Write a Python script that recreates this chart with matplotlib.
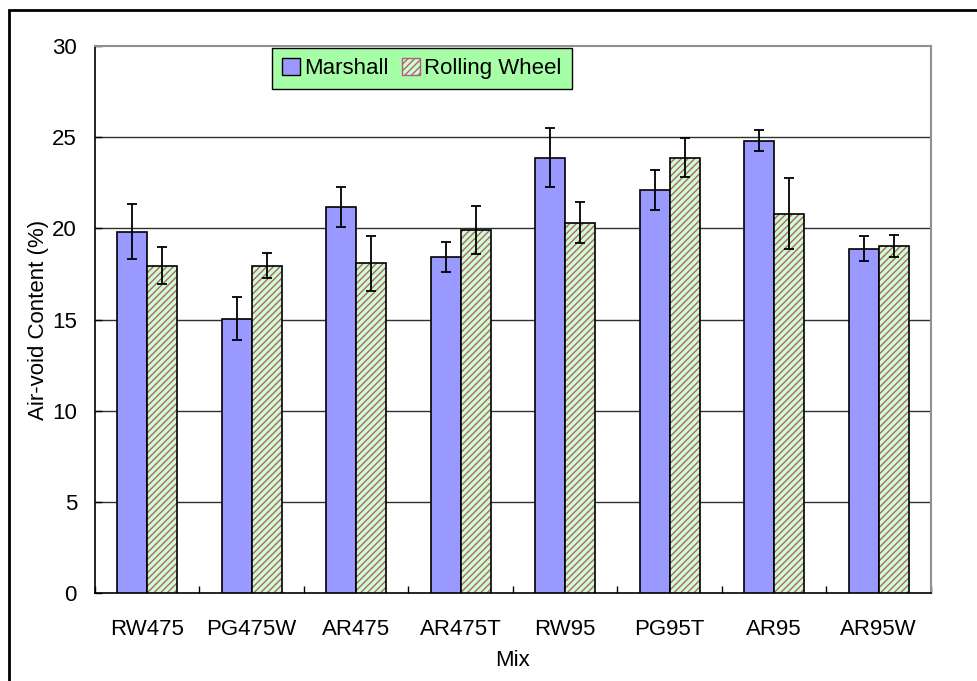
import matplotlib
matplotlib.use("Agg")
import matplotlib.pyplot as plt
import numpy as np
from matplotlib.patches import Rectangle, Patch

plt.rcParams['font.family'] = ['Liberation Sans', 'DejaVu Sans']

mixes = ["RW475", "PG475W", "AR475", "AR475T", "RW95", "PG95T", "AR95", "AR95W"]
marshall = [19.82, 15.05, 21.19, 18.41, 23.88, 22.10, 24.81, 18.89]
marshall_err = [1.5, 1.16, 1.1, 0.82, 1.6, 1.1, 0.57, 0.7]
rolling = [17.95, 17.95, 18.08, 19.90, 20.31, 23.88, 20.81, 19.05]
rolling_err = [1.0, 0.7, 1.5, 1.3, 1.13, 1.08, 1.97, 0.6]
yticks = [0, 5, 10, 15, 20, 25, 30]

W, H = 978, 681
fig = plt.figure(figsize=(W/100, H/100), dpi=100)
ax = fig.add_axes([95/W, 1-593/H, (931-95)/W, (593-46)/H])

x = np.arange(len(mixes))
bw = 0.2875
hatch_col = '#B0607A'

ax.bar(x - bw/2, marshall, bw, color='#9999FF', edgecolor='black', linewidth=1.2, zorder=3)
ax.bar(x + bw/2, rolling, bw, color='#CCFFCC', edgecolor=hatch_col, hatch='/////', linewidth=0, zorder=3)
ax.bar(x + bw/2, rolling, bw, fill=False, edgecolor='black', linewidth=1.2, zorder=4)

ax.errorbar(x - bw/2, marshall, yerr=marshall_err, fmt='none', ecolor='black', elinewidth=1.3, capsize=3.5, capthick=1.3, zorder=5)
ax.errorbar(x + bw/2, rolling, yerr=rolling_err, fmt='none', ecolor='black', elinewidth=1.3, capsize=3.5, capthick=1.3, zorder=5)

ax.set_xlim(-0.5, len(mixes) - 0.5)
ax.set_ylim(0, 30)
ax.set_yticks(yticks)
ax.set_yticklabels([str(t) for t in yticks], fontsize=16)
ax.set_xticks(x)
ax.set_xticklabels(mixes, fontsize=16)
ax.tick_params(axis='x', length=0, pad=19)
ax.tick_params(axis='y', length=5, width=1, direction='in', pad=13)
ax.set_xticks(np.arange(-0.5, len(mixes)), minor=True)
ax.tick_params(axis='x', which='minor', length=5, width=1, direction='in')

for t in yticks[1:-1]:
    ax.axhline(t, color='#303030', linewidth=1.0, zorder=1)

for s in ['left', 'bottom']:
    ax.spines[s].set_color('black')
    ax.spines[s].set_linewidth(1.2)
for s in ['top', 'right']:
    ax.spines[s].set_color('#909090')
    ax.spines[s].set_linewidth(1.5)

ax.set_ylabel("Air-void Content (%)", fontsize=16, labelpad=2)
ax.set_xlabel("Mix", fontsize=16, labelpad=7)

handles = [Patch(facecolor='#9999FF', edgecolor='black', linewidth=1.0),
           Patch(facecolor='#CCFFCC', edgecolor=hatch_col, hatch='/////', linewidth=1.0)]
leg = ax.legend(handles, ["Marshall", "Rolling Wheel"], ncol=2, fontsize=16,
                loc='upper left', bbox_to_anchor=((272-95)/(931-95), 1-(48-46)/(593-46)),
                frameon=True, fancybox=False, facecolor='#A6FFA6', edgecolor='black',
                handlelength=0.8, handleheight=0.8, handletextpad=0.2, columnspacing=0.6,
                borderpad=0.45, borderaxespad=0)
leg.get_frame().set_linewidth(1.0)
leg.get_frame().set_alpha(1)
leg.set_zorder(10)

fig.patches.append(Rectangle((9/W, -0.1), 1.2, 1 - 10/H + 0.1, transform=fig.transFigure,
                             fill=False, edgecolor='black', linewidth=2))

fig.savefig("out.png", dpi=100)
